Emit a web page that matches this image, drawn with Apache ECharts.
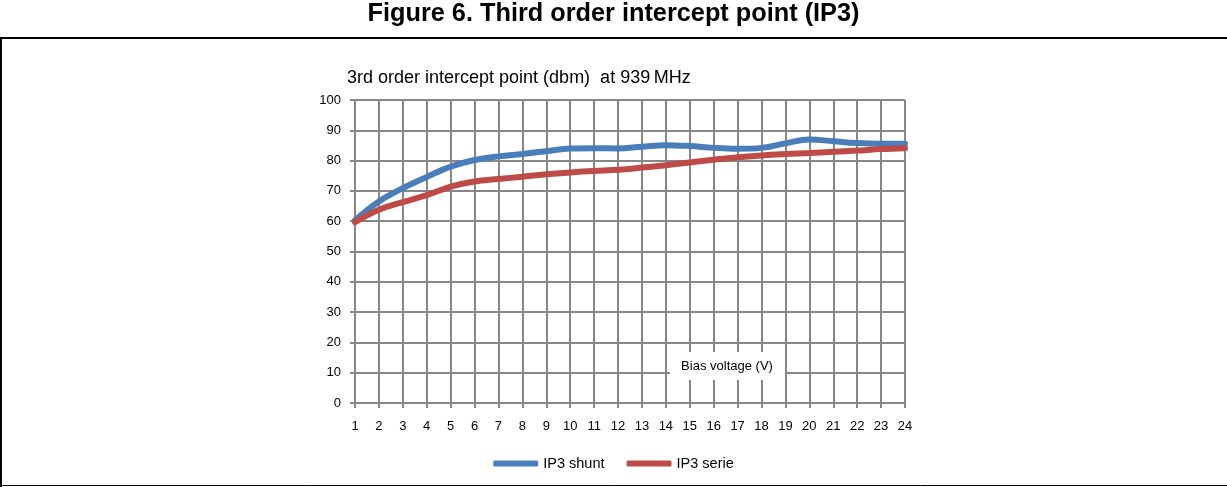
<!DOCTYPE html>
<html>
<head>
<meta charset="utf-8">
<script src="https://cdn.jsdelivr.net/npm/echarts@6/dist/echarts.min.js"></script>
<style>
html,body{margin:0;padding:0;background:#fff;}
#chart{width:1227px;height:487px;}
</style>
</head>
<body>
<div id="chart"></div>
<script>
var categories = ['1','2','3','4','5','6','7','8','9','10','11','12','13','14','15','16','17','18','19','20','21','22','23','24'];
var ip3Shunt = [60.3, 66.5, 70.9, 74.6, 78.0, 80.2, 81.4, 82.2, 83.1, 84.0, 84.1, 84.0, 84.6, 85.1, 84.8, 84.2, 83.9, 84.2, 85.7, 87.0, 86.4, 85.8, 85.6, 85.6];
var ip3Serie = [59.7, 63.8, 66.3, 68.6, 71.4, 73.1, 73.9, 74.7, 75.5, 76.1, 76.6, 77.0, 77.7, 78.5, 79.4, 80.3, 81.1, 81.7, 82.2, 82.5, 82.9, 83.3, 83.8, 84.1];
var seriesNames = ['IP3 shunt', 'IP3 serie'];
var figureTitle = 'Figure 6. Third order intercept point (IP3)';
var chartTitle = '3rd order intercept point (dbm)  at 939\u2009MHz';
var xAxisName = 'Bias voltage (V)';

var chart = echarts.init(document.getElementById('chart'), null, {renderer: 'canvas'});
var gridColor = '#878787';
var ff = 'Liberation Sans, Arial, sans-serif';
chart.setOption({
  animation: false,
  backgroundColor: '#ffffff',
  title: [
    {text: figureTitle, left: 'center', top: 2, padding: 0,
     textStyle: {fontFamily: ff, fontSize: 25.3, fontWeight: 'bold', color: '#000'}},
    {text: chartTitle, left: 347, top: 69, padding: 0,
     textStyle: {fontFamily: ff, fontSize: 18, fontWeight: 'normal', color: '#000'}}
  ],
  legend: {
    data: seriesNames,
    left: 'center',
    top: 451,
    icon: 'roundRect',
    itemWidth: 45,
    itemHeight: 6,
    itemGap: 22,
    textStyle: {fontFamily: ff, fontSize: 14.5, color: '#000'}
  },
  grid: {left: 355, right: 322, top: 100, bottom: 84, containLabel: false},
  xAxis: {
    type: 'category',
    data: categories,
    boundaryGap: false,
    axisLine: {lineStyle: {color: gridColor, width: 2}},
    axisTick: {show: true, alignWithLabel: true, length: 5, lineStyle: {color: gridColor, width: 2}},
    axisLabel: {margin: 17, fontFamily: ff, fontSize: 13, color: '#000', interval: 0},
    splitLine: {show: true, lineStyle: {color: gridColor, width: 2}}
  },
  yAxis: {
    type: 'value',
    min: 0, max: 100, interval: 10,
    axisLine: {show: true, lineStyle: {color: gridColor, width: 2}},
    axisTick: {show: true, length: 5, lineStyle: {color: gridColor, width: 2}},
    axisLabel: {margin: 14, fontFamily: ff, fontSize: 13, color: '#000'},
    splitLine: {show: true, lineStyle: {color: gridColor, width: 2}}
  },
  series: [
    {name: seriesNames[0], type: 'line', data: ip3Shunt, smooth: 0.4, showSymbol: false, symbol: 'none',
     lineStyle: {color: '#4A7EBB', width: 6, cap: 'round'}, itemStyle: {color: '#4A7EBB'}, z: 3},
    {name: seriesNames[1], type: 'line', data: ip3Serie, smooth: 0.4, showSymbol: false, symbol: 'none',
     lineStyle: {color: '#BE4B48', width: 6, cap: 'round'}, itemStyle: {color: '#BE4B48'}, z: 4}
  ],
  graphic: [
    {type: 'rect', shape: {x: 670, y: 352, width: 115, height: 28}, style: {fill: '#fff'}, z: 100},
    {type: 'text', x: 727, y: 366, z: 101,
     style: {text: xAxisName, fill: '#000', font: '13px Liberation Sans, Arial, sans-serif', align: 'center', verticalAlign: 'middle'}},
    {type: 'line', shape: {x1: 0, y1: 38, x2: 1227, y2: 38}, style: {stroke: '#000', lineWidth: 2}, z: 100},
    {type: 'line', shape: {x1: 1, y1: 38, x2: 1, y2: 487}, style: {stroke: '#000', lineWidth: 2}, z: 100},
    {type: 'line', shape: {x1: 0, y1: 485.5, x2: 1227, y2: 485.5}, style: {stroke: '#000', lineWidth: 1}, z: 100}
  ]
});
</script>
</body>
</html>
